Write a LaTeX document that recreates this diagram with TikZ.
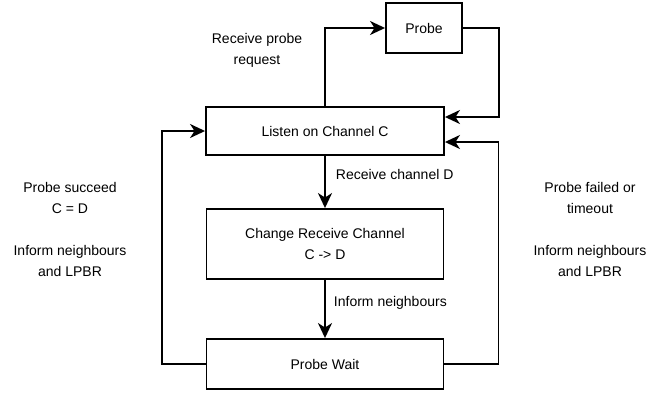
\documentclass[tikz,border=0pt]{standalone}
\usepackage{fontspec}
\setmainfont{Liberation Sans}
\usepackage{tikz}
\usetikzlibrary{positioning,calc,arrows.meta}

\begin{document}
\begin{tikzpicture}[x=1pt,y=-1pt,line width=1.9pt,
		statebox/.style={draw=black,fill=white,inner sep=0pt,align=center,font=\fontsize{14}{21}\selectfont},
		lbl/.style={inner sep=0pt,align=center,font=\fontsize{14}{21}\selectfont},
		flow/.style={-{Stealth[length=15pt,width=14pt,inset=4.5pt]}}]
		\useasboundingbox (0,0) rectangle (665,394);
		\node[statebox,minimum width=76pt,minimum height=50pt] (probe) at (424,28) {Probe};
		\node[statebox,minimum width=238pt,minimum height=48pt] (listen) at (325,131) {Listen on Channel C};
		\node[statebox,minimum width=237pt,minimum height=70pt] (change) at (325,244) {Change Receive Channel\\C -> D};
		\node[statebox,minimum width=237pt,minimum height=50pt] (wait) at (325,364) {Probe Wait};
		\node[lbl] (reqlbl) at (257,50) {Receive probe\\request};
		\node[lbl,anchor=west] (chlbl) at (335,174) {Receive channel D};
		\node[lbl,anchor=west] (inflbl) at (333,303) {Inform neighbours};
		\node[lbl] (oklbl) at (70,229) {Probe succeed\\C = D\\[21pt]Inform neighbours\\and LPBR};
		\node[lbl] (faillbl) at (590,229) {Probe failed or\\timeout\\[21pt]Inform neighbours\\and LPBR};
		
		\draw[flow] (listen.north) |- (probe.west);
		\draw[flow] (probe.east) -- ++(36,0) |- ([yshift=14pt]listen.east);
		\draw[flow] (listen.south) -- (change.north);
		\draw[flow] (change.south) -- (wait.north);
		\draw[flow] (wait.east) -- ++(54,0) |- ([yshift=-11pt]listen.east);
		\draw[flow] (wait.west) -- ++(-44,0) |- (listen.west);
	\end{tikzpicture}
\end{document}
